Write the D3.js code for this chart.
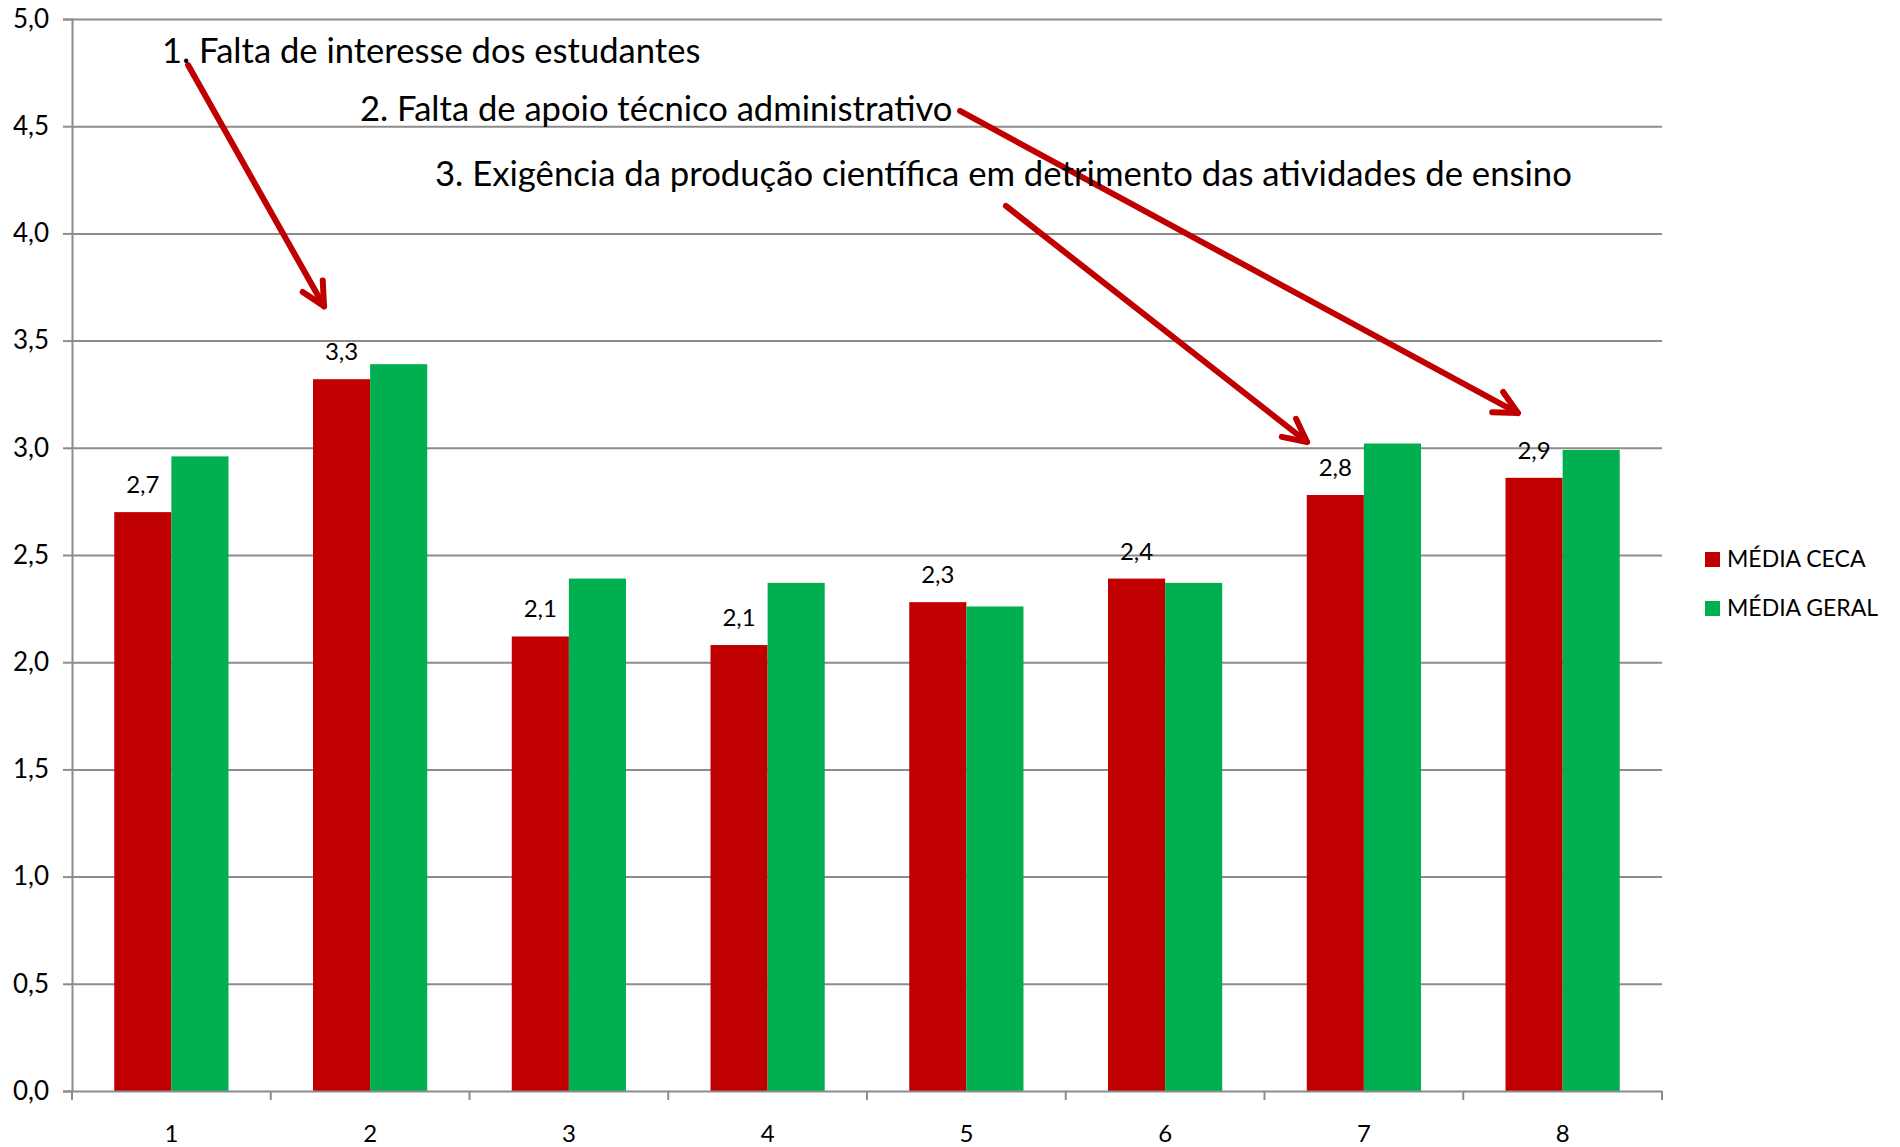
<!DOCTYPE html>
<html>
<head>
<meta charset="utf-8">
<script src="https://cdn.jsdelivr.net/npm/d3@7"></script>
<style>
  body { margin: 0; background: #fff; }
  svg text { font-family: Lato, "Open Sans", sans-serif; fill: #000; }
</style>
</head>
<body>
<svg id="chart" width="1900" height="1147"></svg>
<script>
// data
var categories = ["1", "2", "3", "4", "5", "6", "7", "8"];
var mediaCeca  = [2.70, 3.32, 2.12, 2.08, 2.28, 2.39, 2.78, 2.86];
var mediaGeral = [2.96, 3.39, 2.39, 2.37, 2.26, 2.37, 3.02, 2.99];
var seriesNames = ["MÉDIA CECA", "MÉDIA GERAL"];
var yTicks = [0, 0.5, 1, 1.5, 2, 2.5, 3, 3.5, 4, 4.5, 5];

var notes = [
  { text: "1. Falta de interesse dos estudantes", x: 162, y: 63, w: 538 },
  { text: "2. Falta de apoio técnico administrativo", x: 360, y: 121, w: 592 },
  { text: "3. Exigência da produção científica em detrimento das atividades de ensino", x: 435, y: 186, w: 1137 }
];
// arrows in chart units: [category position, value]
var arrows = [
  { from: [0.584, 4.785], to: [1.268, 3.66] },
  { from: [4.468, 4.571], to: [7.275, 3.162] },
  { from: [4.699, 4.128], to: [6.214, 3.027] }
];

var colors = ["#C00000", "#00B050"];
var gridColor = "#8c8c8c";

var chart = d3.select("#chart");
var plotLeft = 72, plotRight = 1662, plotTop = 19, plotBottom = 1091;

var x = d3.scaleBand().domain(categories).range([plotLeft, plotRight]).padding(0);
var xs = d3.scaleBand().domain(seriesNames).range([0, x.bandwidth()]).paddingInner(0).paddingOuter(0.74);
var xPos = d3.scaleLinear().domain([0, categories.length]).range([plotLeft, plotRight]);
var y = d3.scaleLinear().domain([0, 5]).range([plotBottom, plotTop]);

var fmt = function(d) { return d.toFixed(1).replace(".", ","); };

// gridlines
chart.append("g")
    .attr("transform", "translate(" + plotLeft + ",0)")
    .call(d3.axisLeft(y).tickValues(yTicks.slice(1)).tickSize(-(plotRight - plotLeft)).tickFormat(""))
    .call(function(g) { g.select(".domain").remove(); })
    .selectAll("line").attr("stroke", gridColor).attr("stroke-width", 2);

// bars
var rows = categories.map(function(c, i) { return { cat: c, vals: [mediaCeca[i], mediaGeral[i]] }; });

var groups = chart.selectAll("g.grp")
    .data(rows).enter()
    .append("g")
        .attr("class", "grp")
        .attr("transform", function(d) { return "translate(" + x(d.cat) + ",0)"; });

groups.selectAll("rect")
    .data(function(d) { return d.vals.map(function(v, k) { return { name: seriesNames[k], v: v, k: k }; }); })
    .enter().append("rect")
        .attr("x", function(d) { return xs(d.name); })
        .attr("y", function(d) { return y(d.v); })
        .attr("width", xs.bandwidth())
        .attr("height", function(d) { return y(0) - y(d.v); })
        .attr("fill", function(d) { return colors[d.k]; });

// data labels on the red series
groups.append("text")
    .attr("x", xs(seriesNames[0]) + xs.bandwidth() / 2)
    .attr("y", function(d) { return y(d.vals[0]) - 19; })
    .style("text-anchor", "middle")
    .style("font-size", "24px")
    .text(function(d) { return fmt(d.vals[0]); });

// y axis
var yAxis = chart.append("g")
    .attr("transform", "translate(" + plotLeft + ",0)")
    .call(d3.axisLeft(y).tickValues(yTicks).tickSize(9).tickPadding(14).tickFormat(fmt));
yAxis.select(".domain").attr("stroke", gridColor).attr("stroke-width", 2);
yAxis.selectAll("line").attr("stroke", gridColor).attr("stroke-width", 2);
yAxis.selectAll("text").style("font-size", "26px").style("font-family", "Lato, sans-serif");

// x axis
var xAxis = chart.append("g")
    .attr("transform", "translate(0," + plotBottom + ")")
    .call(d3.axisBottom(x).tickSize(0).tickPadding(0));
xAxis.select(".domain").attr("stroke", gridColor).attr("stroke-width", 2);
xAxis.selectAll("text").attr("y", 51).attr("dy", 0).style("font-size", "24px").style("font-family", "Lato, sans-serif");

chart.append("g")
    .selectAll("line")
    .data(d3.range(categories.length + 1)).enter()
    .append("line")
        .attr("x1", function(d) { return xPos(d); })
        .attr("x2", function(d) { return xPos(d); })
        .attr("y1", plotBottom)
        .attr("y2", plotBottom + 9)
        .attr("stroke", gridColor)
        .attr("stroke-width", 2);

// legend
var legend = chart.append("g").attr("transform", "translate(1705,552)");
seriesNames.forEach(function(s, i) {
    legend.append("rect")
        .attr("x", 0).attr("y", i * 49)
        .attr("width", 15).attr("height", 15)
        .attr("fill", colors[i]);
    legend.append("text")
        .attr("x", 22).attr("y", i * 49 + 15)
        .style("font-size", "23px")
        .text(s);
});

// annotations
chart.append("defs").append("marker")
    .attr("id", "head")
    .attr("markerUnits", "userSpaceOnUse")
    .attr("viewBox", "-30 -16 34 32")
    .attr("refX", 0).attr("refY", 0)
    .attr("markerWidth", 34).attr("markerHeight", 32)
    .attr("orient", "auto")
    .append("path")
        .attr("d", "M-23,-11.5L0,0L-23,11.5")
        .attr("fill", "none")
        .attr("stroke", colors[0])
        .attr("stroke-width", 6)
        .attr("stroke-linecap", "round")
        .attr("stroke-linejoin", "round");

chart.append("g").selectAll("line")
    .data(arrows).enter()
    .append("line")
        .attr("x1", function(d) { return xPos(d.from[0]); })
        .attr("y1", function(d) { return y(d.from[1]); })
        .attr("x2", function(d) { return xPos(d.to[0]); })
        .attr("y2", function(d) { return y(d.to[1]); })
        .attr("stroke", colors[0])
        .attr("stroke-width", 6)
        .attr("stroke-linecap", "round")
        .attr("marker-end", "url(#head)");

chart.append("g").selectAll("text")
    .data(notes).enter()
    .append("text")
        .attr("x", function(d) { return d.x; })
        .attr("y", function(d) { return d.y; })
        .style("font-size", "31px")
        .text(function(d) { return d.text; })
        .each(function(d) {
            // fit the font to the width seen in the picture
            var w = this.getComputedTextLength();
            d3.select(this).style("font-size", (31 * d.w / w).toFixed(1) + "px");
        });
</script>
</body>
</html>
